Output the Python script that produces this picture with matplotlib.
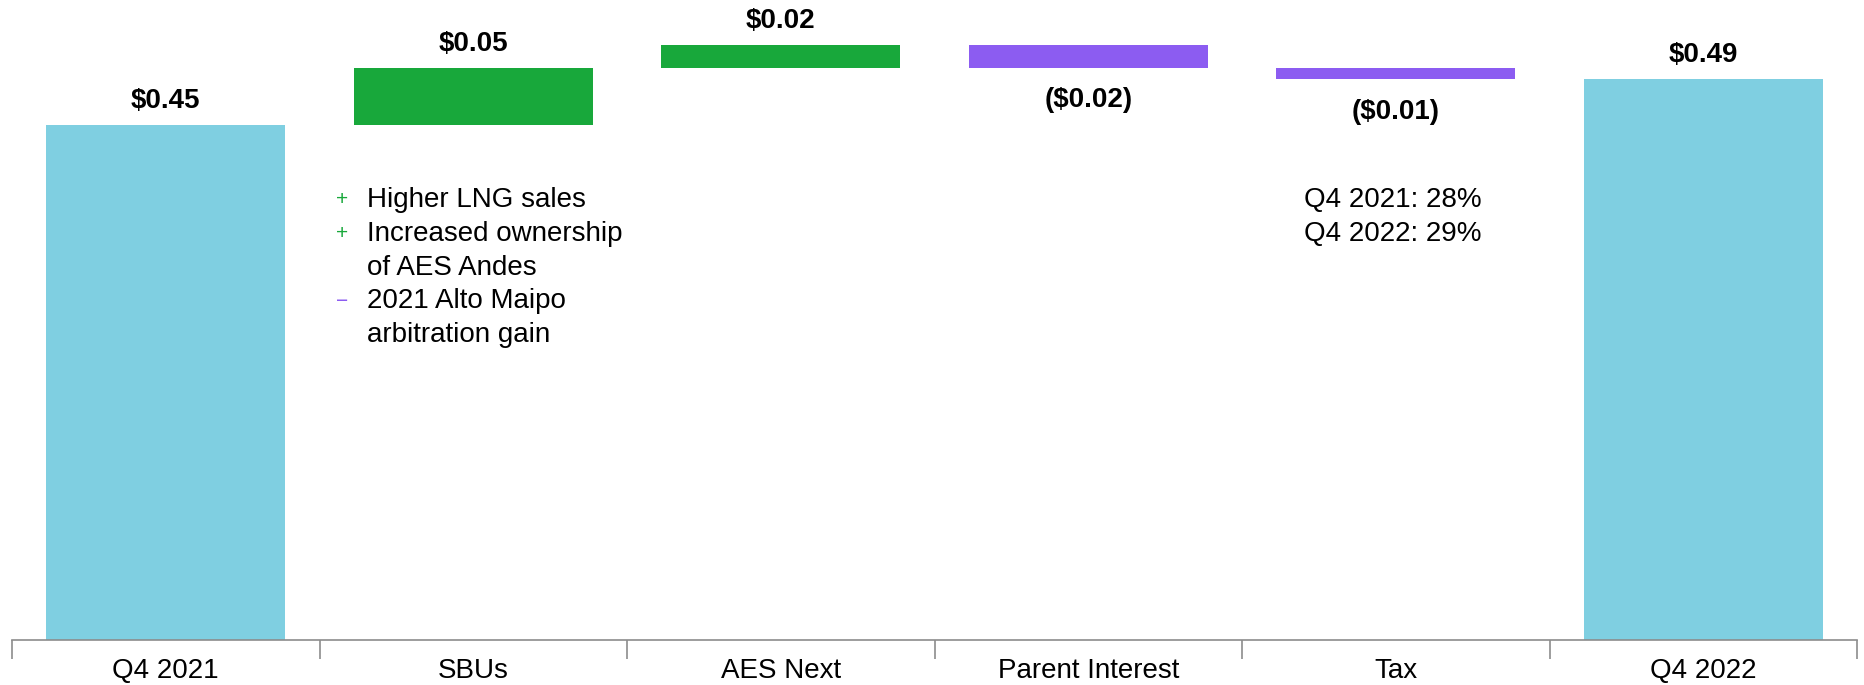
import matplotlib.pyplot as plt
import numpy as np

plt.rcParams["font.family"] = ["Liberation Sans", "DejaVu Sans"]

# EPS bridge, Q4 2021 -> Q4 2022
categories = ["Q4 2021", "SBUs", "AES Next", "Parent Interest", "Tax", "Q4 2022"]
changes = [0.45, 0.05, 0.02, -0.02, -0.01, 0.49]
is_total = [True, False, False, False, False, True]
value_labels = ["$0.45", "$0.05", "$0.02", "($0.02)", "($0.01)", "$0.49"]

sbu_signs = ["+", "+", "\u2212"]
sbu_notes = [["Higher LNG sales"],
             ["Increased ownership", "of AES Andes"],
             ["2021 Alto Maipo", "arbitration gain"]]
tax_notes = ["Q4 2021: 28%", "Q4 2022: 29%"]

BLUE = "#7FCFE1"
GREEN = "#18A83B"
PURPLE = "#8C5CF1"

fig = plt.figure(figsize=(18.64, 6.85), dpi=100)
ax = fig.add_axes([12 / 1864, 1 - 640 / 685, (1857 - 12) / 1864, 640 / 685])

x = np.arange(len(categories))
running = 0.0
for i, (c, tot, lab) in enumerate(zip(changes, is_total, value_labels)):
    if tot:
        bottom, height, color = 0.0, c, BLUE
        running = c
    else:
        bottom = running if c > 0 else running + c
        height = abs(c)
        color = GREEN if c > 0 else PURPLE
        running += c
    ax.bar(x[i], height, bottom=bottom, width=0.777, color=color, linewidth=0)
    if c >= 0:
        ax.annotate(lab, (x[i], bottom + height), xytext=(0, 8),
                    textcoords="offset points", ha="center", va="bottom",
                    fontsize=20, fontweight="bold")
    else:
        ax.annotate(lab, (x[i], bottom), xytext=(0, -14),
                    textcoords="offset points", ha="center", va="top",
                    fontsize=20, fontweight="bold")

# driver notes under the SBUs bar, one text per line
y0, dy = 0.385, 0.0297
row = 0
for sign, lines in zip(sbu_signs, sbu_notes):
    col = GREEN if sign == "+" else PURPLE
    ax.text(0.554, y0 - row * dy, sign, color=col, fontsize=15,
            ha="left", va="center")
    for line in lines:
        ax.text(0.654, y0 - row * dy, line, fontsize=20, ha="left",
                va="center")
        row += 1

for i, note in enumerate(tax_notes):
    ax.text(3.70, y0 - i * dy, note, fontsize=20, ha="left", va="center")

ax.set_xlim(-0.5, 5.5)
ax.set_ylim(0, 640 / 1144)
ax.set_xticks(x)
ax.set_xticklabels(categories, fontsize=20)
ax.tick_params(axis="x", length=0, pad=13)
ax.set_xticks(np.arange(-0.5, 6.0, 1.0), minor=True)
ax.tick_params(axis="x", which="minor", length=14, color="#8C8C8C", width=1.2)
ax.set_yticks([])
for s in ["top", "right", "left"]:
    ax.spines[s].set_visible(False)
ax.spines["bottom"].set_color("#8C8C8C")
ax.spines["bottom"].set_linewidth(1.2)

fig.savefig("out.png", dpi=100)
